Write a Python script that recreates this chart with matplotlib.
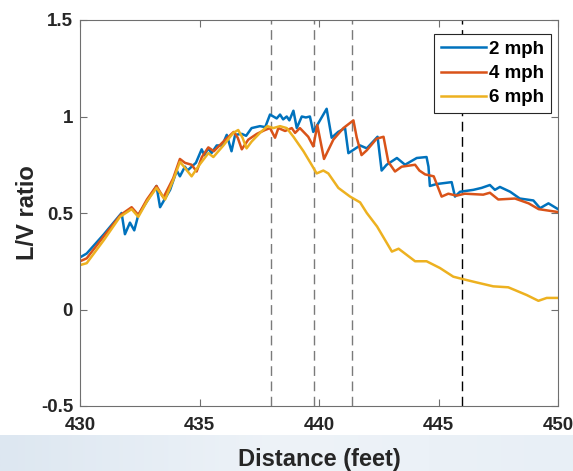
import numpy as np
import matplotlib.pyplot as plt
from matplotlib.colors import LinearSegmentedColormap

# L/V ratio vs distance for three speeds
dist_2mph = [430.0, 430.28, 431.0, 431.74, 431.88, 432.09, 432.27, 432.44, 432.8, 433.2,
             433.35, 433.77, 434.05, 434.18, 434.39, 434.5, 434.67, 434.85, 435.09, 435.2,
             435.37, 435.5, 435.72, 435.95, 436.14, 436.34, 436.49, 436.77, 436.95, 437.18,
             437.53, 437.75, 437.95, 438.23, 438.37, 438.5, 438.65, 438.76, 438.93, 439.07,
             439.28, 439.45, 439.62, 439.76, 440.32, 440.53, 440.8, 441.09, 441.23, 441.72,
             442.0, 442.45, 442.62, 442.83, 443.26, 443.6, 444.09, 444.5, 444.58, 444.64,
             444.92, 445.55, 445.69, 445.9, 446.46, 446.8, 447.15, 447.36, 447.57, 448.0,
             448.4, 448.97, 449.25, 449.6, 450.0]
lv_2mph = [0.27, 0.29, 0.39, 0.50, 0.39, 0.45, 0.41, 0.49, 0.56, 0.64,
           0.53, 0.62, 0.72, 0.69, 0.74, 0.72, 0.74, 0.76, 0.83, 0.80,
           0.835, 0.81, 0.85, 0.85, 0.905, 0.82, 0.905, 0.91, 0.90, 0.94,
           0.95, 0.945, 1.01, 0.99, 1.01, 0.985, 1.00, 0.98, 1.03, 0.94,
           1.00, 0.995, 1.00, 0.92, 1.04, 0.89, 0.92, 0.94, 0.81, 0.85,
           0.835, 0.895, 0.72, 0.75, 0.785, 0.75, 0.785, 0.79, 0.74, 0.64,
           0.65, 0.66, 0.585, 0.61, 0.62, 0.63, 0.645, 0.62, 0.635, 0.61,
           0.575, 0.565, 0.525, 0.55, 0.52]

dist_4mph = [430.0, 430.28, 431.0, 431.7, 432.16, 432.44, 432.8, 433.2, 433.49, 433.9,
             434.18, 434.39, 434.67, 434.88, 435.1, 435.37, 435.6, 436.0, 436.43, 436.6,
             436.77, 437.04, 437.4, 437.74, 437.95, 438.16, 438.3, 438.58, 438.86, 439.0,
             439.2, 439.55, 439.76, 439.93, 440.21, 440.6, 441.02, 441.44, 441.58, 441.78,
             442.0, 442.41, 442.7, 442.9, 443.18, 443.46, 444.02, 444.2, 444.44, 444.8,
             445.13, 445.41, 445.76, 446.1, 446.87, 447.15, 447.5, 448.2, 448.77, 449.19,
             450.0]
lv_4mph = [0.25, 0.265, 0.38, 0.49, 0.53, 0.49, 0.57, 0.64, 0.58, 0.68,
           0.78, 0.76, 0.75, 0.715, 0.79, 0.84, 0.82, 0.87, 0.92, 0.89,
           0.83, 0.88, 0.91, 0.93, 0.94, 0.89, 0.94, 0.925, 0.94, 0.915,
           0.94, 0.895, 0.845, 0.955, 0.78, 0.88, 0.94, 0.98, 0.89, 0.80,
           0.825, 0.885, 0.895, 0.765, 0.715, 0.74, 0.75, 0.72, 0.70, 0.69,
           0.585, 0.60, 0.59, 0.60, 0.595, 0.605, 0.57, 0.575, 0.55, 0.52,
           0.505]

dist_6mph = [430.0, 430.28, 431.0, 431.67, 432.16, 432.44, 432.8, 433.2, 433.56, 433.9,
             434.18, 434.35, 434.67, 435.0, 435.37, 435.58, 436.0, 436.41, 436.62, 436.8,
             436.97, 437.18, 437.53, 437.84, 438.09, 438.37, 438.65, 438.93, 439.35, 439.69,
             439.9, 440.18, 440.39, 440.81, 441.3, 441.72, 442.0, 442.43, 443.05, 443.33,
             444.02, 444.5, 445.06, 445.62, 446.1, 446.6, 447.29, 447.92, 448.69, 449.18,
             449.53, 450.0]
lv_6mph = [0.23, 0.24, 0.36, 0.48, 0.52, 0.48, 0.56, 0.63, 0.57, 0.67,
           0.765, 0.74, 0.69, 0.75, 0.81, 0.79, 0.85, 0.915, 0.93, 0.89,
           0.835, 0.87, 0.915, 0.95, 0.94, 0.95, 0.94, 0.895, 0.82, 0.75,
           0.705, 0.72, 0.705, 0.63, 0.585, 0.555, 0.50, 0.43, 0.30, 0.315,
           0.25, 0.25, 0.215, 0.17, 0.155, 0.14, 0.12, 0.115, 0.075, 0.045,
           0.06, 0.06]

speed_labels = ['2 mph', '4 mph', '6 mph']
marker_dists = [438.0, 439.8, 441.4, 446.0]

plt.rcParams['font.family'] = ['Liberation Sans', 'DejaVu Sans']

fig = plt.figure(figsize=(5.73, 4.71), dpi=100)

# light blue band at the bottom of the screenshot
bg = fig.add_axes([0, 0, 1, 36 / 471], zorder=-10)
grad = np.linspace(0, 1, 256).reshape(1, -1)
bg.imshow(grad, aspect='auto', extent=[0, 1, 0, 1],
          cmap=LinearSegmentedColormap.from_list('bg', ['#dde7f1', '#eef3f8', '#e8eff6']))
bg.axis('off')

ax = fig.add_axes([80 / 573, 1 - 406 / 471, 478 / 573, 386 / 471])

ax.plot(dist_2mph, lv_2mph, color='#0072BD', lw=1.8, label=speed_labels[0])
ax.plot(dist_4mph, lv_4mph, color='#D95319', lw=1.8, label=speed_labels[1])
ax.plot(dist_6mph, lv_6mph, color='#EDB120', lw=1.8, label=speed_labels[2])

for i, d in enumerate(marker_dists):
    c = 'black' if i == len(marker_dists) - 1 else '#7a7a7a'
    ax.axvline(d, color=c, lw=1.0, ls=(0, (7, 4)), zorder=1)

ax.set_xlim(430, 450)
ax.set_ylim(-0.5, 1.5)
ax.set_xticks([430, 435, 440, 445, 450])
ax.set_yticks([-0.5, 0, 0.5, 1, 1.5])
ax.set_yticklabels(['-0.5', '0', '0.5', '1', '1.5'])
ax.tick_params(direction='in', top=True, right=True, length=5, width=0.8,
               color='#6f6f6f', labelsize=13.5, labelcolor='#262626')
ax.tick_params(axis='x', pad=8)
ax.tick_params(axis='y', pad=5)
for lab in ax.get_xticklabels() + ax.get_yticklabels():
    lab.set_fontweight('bold')
for s in ax.spines.values():
    s.set_color('#6f6f6f')
    s.set_linewidth(0.8)

ax.set_xlabel('Distance (feet)', fontsize=17, fontweight='bold', color='#262626', labelpad=10)
ax.set_ylabel('L/V ratio', fontsize=17, fontweight='bold', color='#262626', labelpad=1)

leg = ax.legend(loc='upper right', bbox_to_anchor=(0.985, 0.963),
                prop={'weight': 'bold', 'size': 13.5}, handlelength=2.4, handletextpad=0.2,
                borderpad=0.35, labelspacing=0.38, fancybox=False, framealpha=1,
                edgecolor='#262626', borderaxespad=0)
leg.get_frame().set_linewidth(0.8)

fig.savefig('out.png', dpi=100)
